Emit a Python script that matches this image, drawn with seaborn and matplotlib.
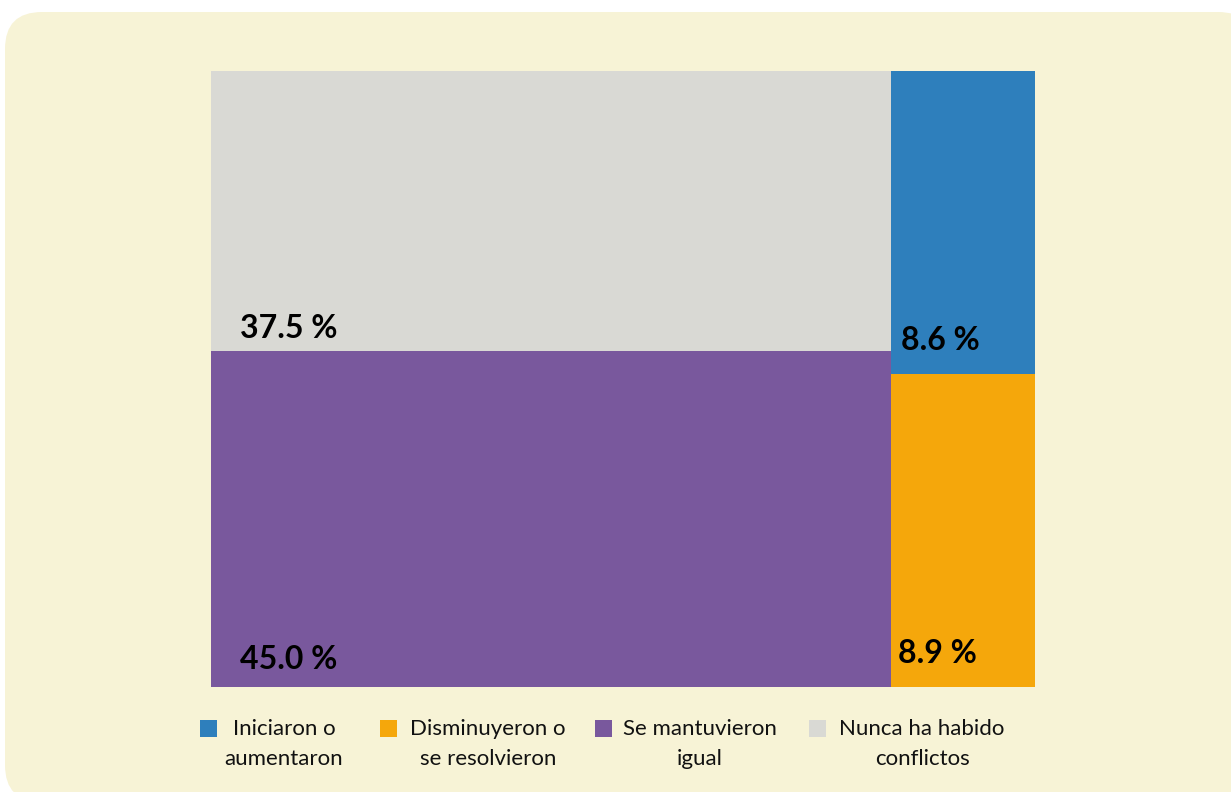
import matplotlib.pyplot as plt
import seaborn as sns
from matplotlib.patches import FancyBboxPatch, Rectangle

# ── data ────────────────────────────────────────────────────────────────────
categories = [
    "Iniciaron o\naumentaron",
    "Disminuyeron o\nse resolvieron",
    "Se mantuvieron\nigual",
    "Nunca ha habido\nconflictos",
]
values = [8.6, 8.9, 45.0, 37.5]
colors = ["#2E7FBC", "#F5A70B", "#79589D", "#D9D9D4"]

# treemap columns (indices into categories), listed bottom -> top
columns = [[2, 3], [1, 0]]

# label offsets (pixels) from each cell's bottom-left corner
label_offsets = {0: (10, 24), 1: (7, 24), 2: (29, 18), 3: (29, 13)}

BG = "#F7F3D6"

sns.set_theme(style="white")
plt.rcParams["font.family"] = ["Lato", "DejaVu Sans"]

fig = plt.figure(figsize=(12.31, 7.92), dpi=100)
fig.patch.set_facecolor("white")
fig.patches.append(
    FancyBboxPatch(
        (5 / 1231, 0 - 10 / 792), 1250 / 1231, 790 / 792,
        boxstyle="round,pad=0,rounding_size=0.03",
        transform=fig.transFigure, facecolor=BG, edgecolor="none",
        mutation_aspect=1231 / 792, zorder=-1,
    )
)

ax = fig.add_axes([211 / 1231, 1 - 687 / 792, 824 / 1231, 616 / 792])
ax.set_facecolor(BG)

total = sum(values)
x0 = 0.0
for col in columns:
    col_sum = sum(values[i] for i in col)
    w = col_sum / total * 100
    y0 = 0.0
    for i in col:
        h = values[i] / col_sum * 100
        ax.bar(x0, h, width=w, bottom=y0, align="edge",
               color=colors[i], edgecolor="none", linewidth=0)
        dx, dy = label_offsets[i]
        ax.annotate(f"{values[i]:.1f} %", (x0, y0), xytext=(dx, dy),
                    textcoords="offset pixels", fontsize=23,
                    fontweight="bold", color="black", va="baseline", ha="left")
        y0 += h
    x0 += w

ax.set_xlim(0, 100)
ax.set_ylim(0, 100)
ax.set_axis_off()

# ── legend (squares aligned with first line of each label) ─────────────────
sq_x = [200, 380, 595, 809]
txt_cx = [284, 488, 700, 922]
for i, lab in enumerate(categories):
    fig.patches.append(
        Rectangle((sq_x[i] / 1231, 1 - 737 / 792), 17 / 1231, 17 / 792,
                  transform=fig.transFigure, facecolor=colors[i],
                  edgecolor="none", zorder=2)
    )
    fig.text(txt_cx[i] / 1231, 1 - 719 / 792, lab, ha="center", va="top",
             multialignment="center", fontsize=16, linespacing=1.62,
             color="#111111")

fig.savefig("out.png", dpi=100, facecolor=fig.get_facecolor())
